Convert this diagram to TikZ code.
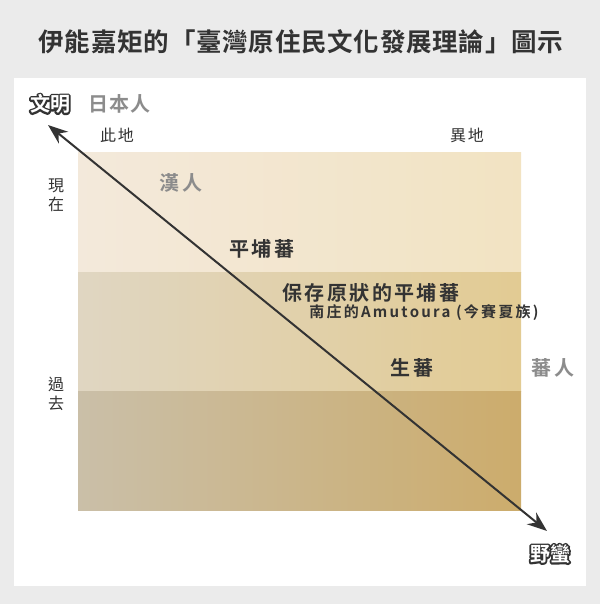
\documentclass[tikz,border=0pt]{standalone}
\usepackage{fontspec}
\setmainfont{Noto Sans CJK TC}[BoldFont={Noto Sans CJK TC Bold}]
\usetikzlibrary{arrows.meta}
\definecolor{bgc}{HTML}{EBEBEB}
\definecolor{ink}{HTML}{333333}
\definecolor{greyt}{HTML}{8C8C8C}
\definecolor{ta}{HTML}{F3E9DB}\definecolor{tb}{HTML}{F2E3C2}
\definecolor{ma}{HTML}{E0D6C2}\definecolor{mb}{HTML}{E2CB93}
\definecolor{ba}{HTML}{CABFA8}\definecolor{bb}{HTML}{CCAC6C}
\tikzset{
  lbl/.style={font=\fontsize{16}{19}\selectfont\addfontfeature{LetterSpace=12}, text=ink, inner sep=0pt},
  big/.style={font=\bfseries\fontsize{20}{22}\selectfont\addfontfeature{LetterSpace=12}, text=ink, inner sep=0pt},
  greylbl/.style={font=\bfseries\fontsize{20}{22}\selectfont\addfontfeature{LetterSpace=12}, text=greyt, inner sep=0pt},
  small/.style={font=\bfseries\fontsize{15}{17}\selectfont\addfontfeature{LetterSpace=15}, text=ink, inner sep=0pt},
  outl/.style={font=\bfseries\fontsize{20}{22}\selectfont, inner sep=0pt},
}
\newcommand{\strokedtext}[1]{{\color{ink}\special{pdf:literal direct 1 Tr 3.6 w 1 j}#1\special{pdf:literal direct 0 Tr 1 w 0 j}}}
\begin{document}
\begin{tikzpicture}[x=1pt,y=-1pt]
\fill[bgc] (0,0) rectangle (600,604);
\useasboundingbox (0,0) rectangle (600,604);
\fill[white] (14,78) rectangle (586,586);
\node[font=\bfseries\fontsize{25.5}{28}\selectfont\addfontfeature{LetterSpace=3}, text=ink, inner sep=0pt] (title) at (301,42) {伊能嘉矩的「臺灣原住民文化發展理論」圖示};
% bands
\shade[left color=ta, right color=tb] (78,153) rectangle (521,272);
\shade[left color=ma, right color=mb] (78,272) rectangle (521,391);
\shade[left color=ba, right color=bb] (78,391) rectangle (521,510);
% axis labels
\node[outl] (civbg) at (50,104) {\strokedtext{文明}};
\node[outl, text=white] (civ) at (50,104) {文明};
\node[greylbl, font=\bfseries\fontsize{20}{22}\selectfont\addfontfeature{LetterSpace=5}] (jp) at (119,104) {日本人};
\node[lbl] (here) at (117,135) {此地};
\node[lbl] (there) at (467,135) {異地};
\node[lbl, align=center] (now) at (56,195) {現\\在};
\node[lbl, align=center] (past) at (56,394) {過\\去};
\node[outl] (wildbg) at (550,554) {\strokedtext{野蠻}};
\node[outl, text=white] (wild) at (550,554) {野蠻};
% arrow
\coordinate (a1) at (48,125);
\coordinate (a2) at (547,531);
\draw[ink, line width=2pt, {Stealth[length=20pt,width=15pt]}-{Stealth[length=20pt,width=15pt]}] (a1) -- (a2);
% content
\node[greylbl] (han) at (181,183) {漢人};
\node[big] (pingpu) at (262,249) {平埔蕃};
\node[big] (keep) at (371,293) {保存原狀的平埔蕃};
\node[small] (nanzhuang) at (424,313) {南庄的Amutoura (今賽夏族)};
\node[big] (sheng) at (412,368) {生蕃};
\node[greylbl] (fan) at (553,368) {蕃人};
\end{tikzpicture}
\end{document}
